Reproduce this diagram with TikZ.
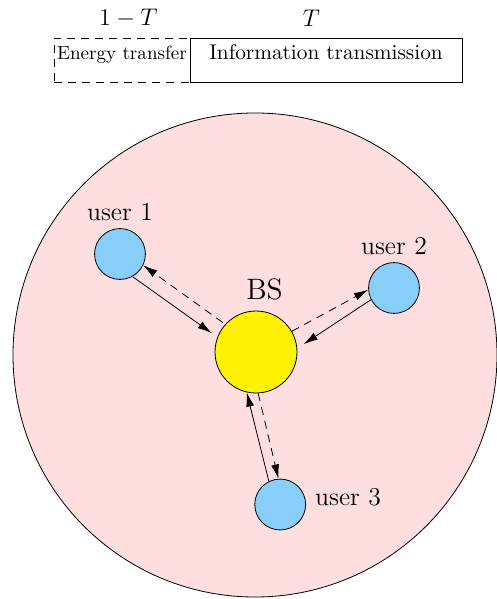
\documentclass[tikz,border=0pt]{standalone}
\usepackage{amsmath}
\usepackage{tikz}
\usetikzlibrary{arrows.meta,positioning}
\definecolor{cellpink}{RGB}{255,222,224}
\definecolor{userblue}{RGB}{135,206,250}

\begin{document}
\begin{tikzpicture}[
  cell/.style={draw, circle, fill=cellpink, minimum size=8.47cm, inner sep=0pt},
  bs/.style={draw, circle, fill=yellow, minimum size=1.435cm, inner sep=0pt},
  user/.style={draw, circle, fill=userblue, minimum size=0.89cm, inner sep=0pt},
  ulabel/.style={font=\fontsize{12.8}{15}\selectfont},
  slot/.style={draw, minimum height=0.77cm, text height=1.6ex, text depth=1.6ex, inner sep=0pt},
  info/.style={-{Latex[length=2.5mm,width=1.4mm]}},
  energy/.style={-{Latex[length=2.5mm,width=1.4mm]}, dash pattern=on 4pt off 3pt}
]
\useasboundingbox (-4.48,-4.3225) rectangle (4.2175,6.16);

% Time slots
\node[slot, dash pattern=on 4pt off 3pt, minimum width=2.38cm, font=\fontsize{9.5}{11}\selectfont] (et) at (-2.345,5.11) {Energy transfer};
\node[slot, minimum width=4.76cm, font=\fontsize{10.6}{13}\selectfont] (it) at (1.225,5.11) {Information transmission};
\node[font=\fontsize{12.6}{15}\selectfont] (t1) at (-2.235,5.84) {$1-T$};
\node[font=\fontsize{12.6}{15}\selectfont] (t2) at (0.97,5.84) {$T$};

% Cell and base station
\node[cell] (cell) at (-0.0175,-0.0525) {};
\node[bs] (bs) at (0,0) {};
\node[font=\fontsize{14.7}{17}\selectfont] (bsl) at (0.149,1.097) {BS};

% Users
\node[user] (u1) at (-2.38,1.715) {};
\node[user] (u2) at (2.415,1.12) {};
\node[user] (u3) at (0.4235,-2.669) {};
\node[ulabel, above=0pt of u1] (u1l) {user 1};
\node[ulabel, above=0pt of u2] (u2l) {user 2};
\node[ulabel, right=1pt of u3, yshift=3.5pt] (u3l) {user 3};

% arrows
\draw[info, shorten >=0.12cm] (u1.-61) -- (bs.159);
\draw[energy, shorten <=1.5pt] (bs.138) -- (u1.-26);
\draw[energy] (bs.30) -- (u2.184);
\draw[info, shorten >=0.135cm] (u2.207) -- (bs.5);
\draw[info] (u3.116) -- (bs.257);
\draw[energy] (bs.273) -- (u3.94);
\end{tikzpicture}
\end{document}
